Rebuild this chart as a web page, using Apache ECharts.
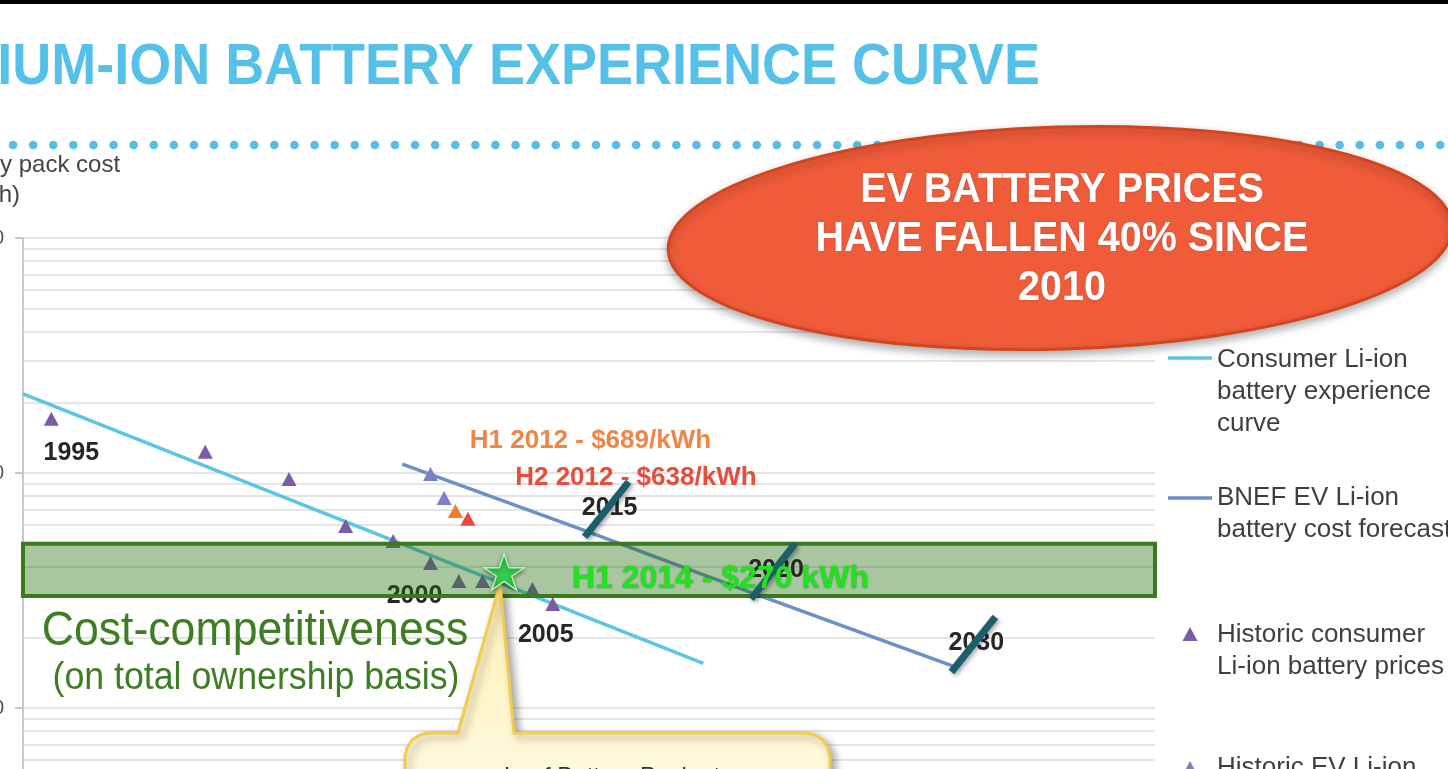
<!DOCTYPE html>
<html>
<head>
<meta charset="utf-8">
<title>Lithium-ion battery experience curve</title>
<script src="https://cdn.jsdelivr.net/npm/echarts@6/dist/echarts.min.js"></script>
<style>
  html, body { margin: 0; padding: 0; background: #fff; }
  #chart { width: 1448px; height: 769px; }
</style>
</head>
<body>
<div id="chart"></div>
<script>
// x = position along cumulative volume (its axis is cut off in the picture), y = pack cost $/kWh (log)
const consumerCurve = [[0, 2170], [60.1, 155]]
const evForecast = [[33.5, 1090], [49.7, 567], [64.4, 309], [82.1, 151]]
const consumerPrices = [[2.5, 1700], [16.1, 1230], [23.5, 943], [28.5, 595], [32.7, 513], [36.0, 414], [38.5, 347], [40.6, 347], [45.0, 321], [46.8, 277]]
const consumerYears = ['1995', '', '', '', '', '2000', '', '', '', '2005']
const evPrices = [[36.0, 990], [37.2, 783]]
const h1of2012 = [[38.2, 689]]
const h2of2012 = [[39.3, 638]]
const leafPack = [[42.5, 379]]
const forecastPoints = [[49.7, 567], [64.4, 309], [82.1, 151]]
const forecastYears = ['2015', '2020', '2030']
const competitiveBand = [300, 500]
// minor log gridlines (2..9 of each decade)
const minorGrid = [20, 30, 40, 50, 60, 70, 80, 90, 200, 300, 400, 500, 600, 700, 800, 900, 2000, 3000, 4000, 5000, 6000, 7000, 8000, 9000]

const FONT = '"Liberation Sans", Arial, Helvetica, sans-serif'

// 年份标签偏移（相对三角形中心）
const yearLabelOffset = { 0: [20, 34], 5: [-16, 33], 9: [-7, 31] }

const chart = echarts.init(document.getElementById('chart'))

const option = {
  animation: false,
  backgroundColor: '#fff',
  grid: {
    left: 23,
    right: 293,
    top: 238,
    height: 705,
    outerBoundsMode: 'none'
  },
  xAxis: {
    type: 'value',
    min: 0,
    max: 100,
    show: false
  },
  yAxis: {
    type: 'log',
    logBase: 10,
    min: 10,
    max: 10000,
    axisLine: { show: true, lineStyle: { color: '#c8c8c8', width: 2 } },
    axisTick: { show: true, length: 8, lineStyle: { color: '#c8c8c8', width: 2 } },
    axisLabel: {
      margin: 19,
      fontSize: 20,
      color: '#555',
      fontFamily: FONT,
      formatter: (v) => Number(v).toLocaleString('en-US')
    },
    splitLine: { show: true, lineStyle: { color: '#dcdcdc', width: 1.5 } }
  },
  series: [
    // minor gridlines
    {
      type: 'line',
      data: [],
      silent: true,
      markLine: {
        silent: true,
        z: 1,
        symbol: ['none', 'none'],
        label: { show: false },
        lineStyle: { color: '#dcdcdc', width: 1.5, type: 'solid' },
        emphasis: { disabled: true },
        data: minorGrid.map((v) => ({ yAxis: v }))
      }
    },
    {
      name: 'Consumer Li-ion battery experience curve',
      type: 'line',
      data: consumerCurve,
      showSymbol: false,
      symbol: 'none',
      z: 2,
      lineStyle: { color: '#5bc6e2', width: 3.5 }
    },
    {
      name: 'BNEF EV Li-ion battery cost forecast',
      type: 'line',
      data: evForecast,
      showSymbol: false,
      symbol: 'none',
      z: 2,
      lineStyle: { color: '#6d8fc7', width: 3.5 }
    },
    {
      name: 'Historic consumer Li-ion battery prices',
      type: 'scatter',
      symbol: 'triangle',
      symbolSize: [15, 14],
      z: 3,
      itemStyle: { color: '#7b5aa7', opacity: 1 },
      data: consumerPrices.map((p, i) => ({
        value: p,
        label: consumerYears[i]
          ? { show: true, formatter: consumerYears[i], offset: yearLabelOffset[i] }
          : { show: false }
      })),
      label: {
        position: 'inside',
        color: '#262626',
        fontSize: 25,
        fontWeight: 'bold',
        fontFamily: FONT
      }
    },
    {
      name: 'Historic EV Li-ion battery prices',
      type: 'scatter',
      symbol: 'triangle',
      symbolSize: [15, 14],
      z: 3,
      itemStyle: { color: '#7e7ec6', opacity: 1 },
      data: evPrices
    },
    {
      name: 'H1 2012',
      type: 'scatter',
      symbol: 'triangle',
      symbolSize: [15, 14],
      z: 3,
      itemStyle: { color: '#f07c34', opacity: 1 },
      data: h1of2012,
      label: {
        show: true,
        position: 'inside',
        offset: [135, -70],
        formatter: (p) => 'H1 2012 - $' + p.value[1] + '/kWh',
        color: '#f08646',
        fontSize: 26,
        fontWeight: 'bold',
        fontFamily: FONT
      }
    },
    {
      name: 'H2 2012',
      type: 'scatter',
      symbol: 'triangle',
      symbolSize: [15, 14],
      z: 3,
      itemStyle: { color: '#e8483a', opacity: 1 },
      data: h2of2012,
      label: {
        show: true,
        position: 'inside',
        offset: [168, -41],
        formatter: (p) => 'H2 2012 - $' + p.value[1] + '/kWh',
        color: '#e84c3a',
        fontSize: 26,
        fontWeight: 'bold',
        fontFamily: FONT
      }
    },
    // cost-competitiveness band
    {
      name: 'Cost-competitiveness',
      type: 'line',
      data: [],
      silent: true,
      markArea: {
        silent: true,
        z: 6,
        itemStyle: {
          color: 'rgba(37, 112, 17, 0.4)',
          borderColor: '#3b7a1c',
          borderWidth: 4
        },
        emphasis: { disabled: true },
        data: [[{ yAxis: competitiveBand[0] }, { yAxis: competitiveBand[1] }]]
      }
    },
    // forecast milestones: slash + year
    {
      type: 'custom',
      z: 8,
      silent: true,
      data: forecastPoints,
      renderItem: (params, api) => {
        const p = api.coord([api.value(0), api.value(1)])
        return {
          type: 'group',
          children: [
            {
              type: 'text',
              style: {
                text: forecastYears[params.dataIndex],
                x: p[0] + 24,
                y: p[1] - 23,
                align: 'center',
                verticalAlign: 'middle',
                fill: '#262626',
                fontSize: 25,
                fontWeight: 'bold',
                fontFamily: FONT
              }
            },
            {
              type: 'line',
              shape: { x1: p[0] - 1, y1: p[1] + 6, x2: p[0] + 43, y2: p[1] - 49 },
              style: {
                stroke: '#1c5f6c',
                lineWidth: 7,
                shadowBlur: 4,
                shadowColor: 'rgba(0,0,0,0.35)',
                shadowOffsetX: 2,
                shadowOffsetY: 2
              }
            }
          ]
        }
      }
    },
    {
      name: 'Leaf battery pack',
      type: 'scatter',
      symbol: 'path://M50,0 L61.8,35.4 L99,35.4 L68.9,57.3 L80.4,92.7 L50,70.8 L19.6,92.7 L31.1,57.3 L1,35.4 L38.2,35.4 Z',
      symbolSize: [40, 36],
      z: 10,
      itemStyle: {
        color: '#33cc4c',
        opacity: 1,
        borderColor: '#b4f2b4',
        borderWidth: 1.5,
        shadowBlur: 4,
        shadowColor: 'rgba(0,0,0,0.4)',
        shadowOffsetY: 2
      },
      data: leafPack,
      label: {
        show: true,
        position: 'right',
        distance: 47,
        offset: [0, 7],
        formatter: 'H1 2014 - $270 kWh',
        color: '#1ee41e',
        fontSize: 32,
        fontWeight: 'bold',
        fontFamily: FONT,
        textShadowBlur: 2,
        textShadowColor: 'rgba(0,60,0,0.5)'
      }
    }
  ],
  graphic: {
    elements: [
      // top black bar
      { type: 'rect', z: 20, shape: { x: 0, y: 0, width: 1448, height: 4 }, style: { fill: '#000' } },
      // title
      {
        type: 'text',
        z: 20,
        x: 1040,
        y: 68,
        scaleX: 0.947,
        style: {
          text: 'LITHIUM-ION BATTERY EXPERIENCE CURVE',
          x: 0,
          y: 0,
          align: 'right',
          verticalAlign: 'middle',
          fill: '#55c0e8',
          fontSize: 57,
          fontWeight: 'bold',
          fontFamily: FONT
        }
      },
      // dotted rule
      {
        type: 'line',
        z: 11,
        shape: { x1: 13, y1: 145, x2: 1448, y2: 145 },
        style: { stroke: '#55bde6', lineWidth: 8.5, lineDash: [0.1, 20], lineCap: 'round' }
      },
      // y axis name
      {
        type: 'text',
        z: 20,
        x: -64,
        y: 150,
        style: {
          text: 'Battery pack cost\n($/kWh)',
          x: 0,
          y: 0,
          align: 'left',
          verticalAlign: 'top',
          lineHeight: 30,
          fill: '#444',
          fontSize: 24,
          fontFamily: FONT
        }
      },
      // red callout
      {
        type: 'ellipse',
        z: 12,
        x: 1060,
        y: 238,
        rotation: 0.03,
        shape: { cx: 0, cy: 0, rx: 392, ry: 111 },
        style: {
          fill: '#f05c3a',
          stroke: '#d4441f',
          lineWidth: 3,
          shadowBlur: 8,
          shadowColor: 'rgba(0,0,0,0.3)',
          shadowOffsetY: 4
        }
      },
      {
        type: 'text',
        z: 13,
        x: 1062,
        y: 239,
        scaleX: 0.94,
        style: {
          text: 'EV BATTERY PRICES\nHAVE FALLEN 40% SINCE\n2010',
          x: 0,
          y: 0,
          align: 'center',
          verticalAlign: 'middle',
          lineHeight: 49,
          fill: '#fff',
          fontSize: 42,
          fontWeight: 'bold',
          fontFamily: FONT,
          textShadowBlur: 2,
          textShadowColor: 'rgba(0,0,0,0.25)'
        }
      },
      // band annotation
      {
        type: 'text',
        z: 7,
        x: 255,
        y: 632,
        scaleX: 0.93,
        style: {
          text: 'Cost-competitiveness',
          x: 0,
          y: 0,
          align: 'center',
          verticalAlign: 'middle',
          fill: '#3f7d22',
          fontSize: 48,
          fontFamily: FONT
        }
      },
      {
        type: 'text',
        z: 7,
        x: 256,
        y: 679,
        scaleX: 0.94,
        style: {
          text: '(on total ownership basis)',
          x: 0,
          y: 0,
          align: 'center',
          verticalAlign: 'middle',
          fill: '#3f7d22',
          fontSize: 38,
          fontFamily: FONT
        }
      },
      // yellow speech bubble
      {
        type: 'polygon',
        z: 9,
        shape: {
          points: [
            [500, 584], [514, 733], [806, 733], [815, 735], [823, 740], [828, 748], [830, 757],
            [830, 830], [405, 830], [405, 757], [407, 748], [412, 740], [420, 735], [429, 733], [458, 733]
          ]
        },
        style: {
          fill: {
            type: 'linear', x: 0, y: 0, x2: 0, y2: 1,
            colorStops: [{ offset: 0, color: '#fff2b4' }, { offset: 1, color: '#fffbe8' }]
          },
          stroke: '#f2cc4c',
          lineWidth: 3,
          lineJoin: 'round',
          shadowBlur: 8,
          shadowColor: 'rgba(0,0,0,0.35)',
          shadowOffsetX: 4,
          shadowOffsetY: 4
        }
      },
      {
        type: 'text',
        z: 9,
        x: 612,
        y: 777,
        style: {
          text: 'Leaf Battery Pack at',
          x: 0,
          y: 0,
          align: 'center',
          verticalAlign: 'middle',
          fill: '#333',
          fontSize: 24,
          fontFamily: FONT
        }
      },
      // legend
      { type: 'line', z: 20, shape: { x1: 1168, y1: 358, x2: 1212, y2: 358 }, style: { stroke: '#5bc6e2', lineWidth: 3.5 } },
      {
        type: 'text', z: 20, x: 1217, y: 344,
        style: { text: 'Consumer Li-ion\nbattery experience\ncurve', x: 0, y: 0, verticalAlign: 'top', lineHeight: 32, fill: '#3f3f3f', fontSize: 26, fontFamily: FONT }
      },
      { type: 'line', z: 20, shape: { x1: 1168, y1: 498, x2: 1212, y2: 498 }, style: { stroke: '#6d8fc7', lineWidth: 3.5 } },
      {
        type: 'text', z: 20, x: 1217, y: 482,
        style: { text: 'BNEF EV Li-ion\nbattery cost forecast', x: 0, y: 0, verticalAlign: 'top', lineHeight: 32, fill: '#3f3f3f', fontSize: 26, fontFamily: FONT }
      },
      { type: 'polygon', z: 20, shape: { points: [[1190, 627], [1197.5, 641], [1182.5, 641]] }, style: { fill: '#7b5aa7' } },
      {
        type: 'text', z: 20, x: 1217, y: 619,
        style: { text: 'Historic consumer\nLi-ion battery prices', x: 0, y: 0, verticalAlign: 'top', lineHeight: 32, fill: '#3f3f3f', fontSize: 26, fontFamily: FONT }
      },
      { type: 'polygon', z: 20, shape: { points: [[1190, 761], [1197.5, 775], [1182.5, 775]] }, style: { fill: '#7e7ec6' } },
      {
        type: 'text', z: 20, x: 1217, y: 752,
        style: { text: 'Historic EV Li-ion\nbattery prices', x: 0, y: 0, verticalAlign: 'top', lineHeight: 32, fill: '#3f3f3f', fontSize: 26, fontFamily: FONT }
      }
    ]
  }
}

chart.setOption(option)
</script>
</body>
</html>
